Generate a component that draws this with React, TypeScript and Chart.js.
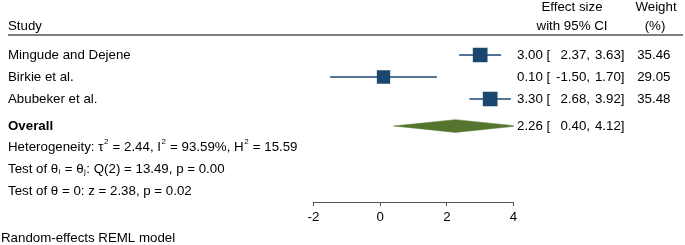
import React, { useEffect, useRef } from "react";
import { Chart, registerables } from "chart.js";

Chart.register(...registerables);

// ---- data ----
const studies = ["Mingude and Dejene", "Birkie et al.", "Abubeker et al."];
const estimates = [3.0, 0.1, 3.3];
const lowerCI = [2.37, -1.5, 2.68];
const upperCI = [3.63, 1.7, 3.92];
const weights = [35.46, 29.05, 35.48];
const overallLabel = "Overall";
const overallEstimate = 2.26;
const overallLower = 0.4;
const overallUpper = 4.12;
const xTicks = [-2, 0, 2, 4];
const statLines = [
  "Heterogeneity: τ^2 = 2.44, I^2 = 93.59%, H^2 = 15.59",
  "Test of θ_i = θ_j: Q(2) = 13.49, p = 0.00",
  "Test of θ = 0: z = 2.38, p = 0.02",
];
const footnote = "Random-effects REML model";
const headerStudy = "Study";
const headerEffect = ["Effect size", "with 95% CI"];
const headerWeight = ["Weight", "(%)"];

// ---- layout rows (y-scale units) ----
const studyRows = [1, 2, 3];
const overallRow = 4.227;
const statRows = [5.182, 6.182, 7.182];
const headerRows = [-1.16, -0.318];
const ruleRow = 0.09;

const FONT = "'Liberation Sans', Arial, sans-serif";
const FS = 13.3;
const NAVY = "#1a476f";
const GREEN = "#55752f";

const f2 = (v: number) => v.toFixed(2);

function drawRich(ctx: CanvasRenderingContext2D, str: string, x: number, y: number, size: number) {
  let cx = x;
  let run = "";
  const flush = () => {
    if (!run) return;
    ctx.font = `${size}px ${FONT}`;
    ctx.fillText(run, cx, y);
    cx += ctx.measureText(run).width;
    run = "";
  };
  for (let i = 0; i < str.length; i++) {
    const ch = str[i];
    if ((ch === "^" || ch === "_") && i + 1 < str.length) {
      flush();
      const c = str[i + 1];
      i++;
      const s = size * 0.6;
      ctx.font = `${s}px ${FONT}`;
      ctx.fillText(c, cx + 0.5, y + (ch === "^" ? -size * 0.42 : size * 0.22));
      cx += ctx.measureText(c).width + 1;
      continue;
    }
    run += ch;
  }
  flush();
}

const textPlugin = {
  id: "forestText",
  afterDraw(chart: any) {
    const ctx: CanvasRenderingContext2D = chart.ctx;
    const ys = chart.scales.y;
    ctx.save();
    ctx.fillStyle = "#000";
    ctx.textBaseline = "middle";
    const font = `${FS}px ${FONT}`;
    ctx.font = font;

    // headers
    ctx.textAlign = "left";
    ctx.fillText(headerStudy, 8, ys.getPixelForValue(headerRows[1]));
    ctx.textAlign = "center";
    ctx.fillText(headerEffect[0], 572, ys.getPixelForValue(headerRows[0]));
    ctx.fillText(headerEffect[1], 572, ys.getPixelForValue(headerRows[1]));
    ctx.fillText(headerWeight[0], 656, ys.getPixelForValue(headerRows[0]));
    ctx.fillText(headerWeight[1], 655, ys.getPixelForValue(headerRows[1]));

    // header rule
    ctx.strokeStyle = "#555";
    ctx.lineWidth = 1.6;
    const ry = ys.getPixelForValue(ruleRow);
    ctx.beginPath();
    ctx.moveTo(8, ry);
    ctx.lineTo(683, ry);
    ctx.stroke();

    const effectText = (row: number, est: number, lo: number, hi: number) => {
      const y = ys.getPixelForValue(row);
      ctx.textAlign = "left";
      ctx.fillText(`${f2(est)} [`, 517, y);
      ctx.textAlign = "right";
      ctx.fillText(`${f2(lo)},`, 590, y);
      ctx.fillText(`${f2(hi)}]`, 624.5, y);
    };

    studies.forEach((s, i) => {
      const y = ys.getPixelForValue(studyRows[i]);
      ctx.textAlign = "left";
      ctx.fillText(s, 8, y);
      effectText(studyRows[i], estimates[i], lowerCI[i], upperCI[i]);
      ctx.textAlign = "right";
      ctx.fillText(f2(weights[i]), 670.5, y);
    });

    ctx.font = `bold ${FS}px ${FONT}`;
    ctx.textAlign = "left";
    ctx.fillText(overallLabel, 8, ys.getPixelForValue(overallRow));
    ctx.font = font;
    effectText(overallRow, overallEstimate, overallLower, overallUpper);

    ctx.textAlign = "left";
    statLines.forEach((s, i) => drawRich(ctx, s, 8, ys.getPixelForValue(statRows[i]), FS));

    ctx.font = font;
    ctx.textAlign = "left";
    ctx.fillText(footnote, 1, 238);
    ctx.restore();
  },
};

export default function App() {
  const ref = useRef<HTMLCanvasElement | null>(null);
  useEffect(() => {
    document.body.style.margin = "0";
    const canvas = ref.current;
    if (!canvas) return;
    const maxW = Math.max(...weights);
    const datasets: any[] = [];
    studies.forEach((s, i) => {
      datasets.push({
        type: "line",
        label: s + " CI",
        data: [
          { x: lowerCI[i], y: studyRows[i] },
          { x: upperCI[i], y: studyRows[i] },
        ],
        borderColor: NAVY,
        borderWidth: 1.3,
        pointRadius: 0,
        fill: false,
      });
    });
    datasets.push({
      type: "scatter",
      label: "estimates",
      data: estimates.map((e, i) => ({ x: e, y: studyRows[i] })),
      pointStyle: "rect",
      pointRadius: weights.map((w) => (14.7 * Math.sqrt(w / maxW)) / Math.SQRT2),
      backgroundColor: NAVY,
      borderColor: NAVY,
      borderWidth: 0,
    });
    const dh = 0.29;
    datasets.push({
      type: "line",
      label: overallLabel,
      data: [
        { x: overallLower, y: overallRow },
        { x: overallEstimate, y: overallRow - dh },
        { x: overallUpper, y: overallRow },
        { x: overallEstimate, y: overallRow + dh },
        { x: overallLower, y: overallRow },
      ],
      borderColor: GREEN,
      borderWidth: 0.5,
      backgroundColor: GREEN,
      pointRadius: 0,
      fill: "shape",
      tension: 0,
    });

    const chart = new Chart(canvas, {
      type: "scatter",
      data: { datasets },
      options: {
        animation: false,
        responsive: false,
        maintainAspectRatio: false,
        layout: { padding: { left: 313.5, right: 171.5, top: 0, bottom: 17 } },
        plugins: { legend: { display: false }, tooltip: { enabled: false } },
        scales: {
          x: {
            type: "linear",
            min: xTicks[0],
            max: xTicks[xTicks.length - 1],
            afterBuildTicks: (axis: any) => {
              axis.ticks = xTicks.map((v) => ({ value: v }));
            },
            grid: { drawOnChartArea: false, tickLength: 4, color: "#555", lineWidth: 1 },
            border: { color: "#555", width: 1 },
            ticks: { padding: 3, color: "#000", font: { family: FONT, size: FS } },
          },
          // chart area starts ~10.4px down (point-radius overflow padding), so min is set to keep 22px per row
          y: { display: false, type: "linear", min: -1.0273, max: 7.682, reverse: true },
        },
      },
      plugins: [textPlugin],
    });
    return () => chart.destroy();
  }, []);
  return (
    <div style={{ width: 685, height: 245, background: "#fff" }}>
      <canvas ref={ref} width={685} height={245} style={{ display: "block", width: 685, height: 245 }} />
    </div>
  );
}
